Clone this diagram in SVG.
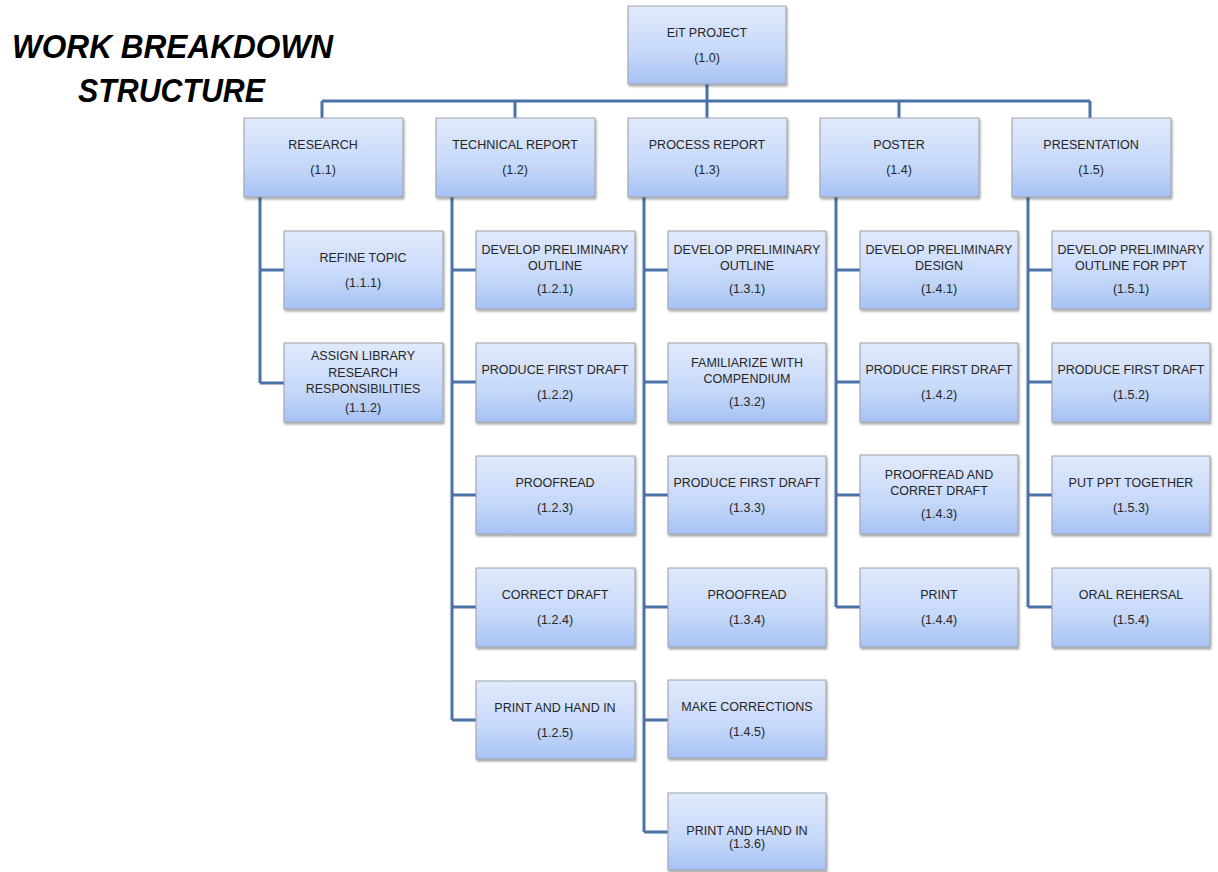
<svg xmlns="http://www.w3.org/2000/svg" width="1218" height="872" viewBox="0 0 1218 872">
<defs>
<linearGradient id="g" x1="0" y1="0" x2="0" y2="1">
<stop offset="0" stop-color="#e0eafc"/>
<stop offset="0.6" stop-color="#c6d8f9"/>
<stop offset="1" stop-color="#a6c2f5"/>
</linearGradient>
<filter id="sh" x="-10%" y="-10%" width="125%" height="130%">
<feDropShadow dx="1" dy="2" stdDeviation="1.2" flood-color="#000" flood-opacity="0.35"/>
</filter>
</defs>
<style>
.b{fill:url(#g);stroke:#9c9fa6;stroke-width:1;filter:url(#sh)}
.t{font-family:"Liberation Sans",Arial,sans-serif;font-size:12.5px;fill:#262626;text-anchor:middle}
.c{fill:none;stroke:#4a72a8;stroke-width:3}
.h{font-family:"Liberation Sans",Arial,sans-serif;font-weight:bold;font-style:italic;font-size:33px;fill:#000}
</style>
<rect width="1218" height="872" fill="#fff"/>
<text class="h" x="12" y="58" textLength="321" lengthAdjust="spacingAndGlyphs">WORK BREAKDOWN</text>
<text class="h" x="78" y="102" textLength="187" lengthAdjust="spacingAndGlyphs">STRUCTURE</text>

<g id="connectors">
<path class="c" d="M707 84V101M322 101H1090M322 101V118M515 101V118M707 101V118M899 101V118M1090 101V118"/>
<path class="c" d="M260 197V383M260 270H284M260 383H284"/>
<path class="c" d="M452 197V720M452 270H476M452 382H476M452 495H476M452 607H476M452 720H476"/>
<path class="c" d="M644 197V832M644 270H668M644 382H668M644 495H668M644 607H668M644 720H668M644 832H668"/>
<path class="c" d="M836 197V607M836 270H860M836 382H860M836 495H860M836 607H860"/>
<path class="c" d="M1028 197V607M1028 270H1052M1028 382H1052M1028 495H1052M1028 607H1052"/>
</g>

<g id="n1_0"><rect class="b" x="628" y="6" width="158" height="78"/><text class="t" x="707" y="37">EiT PROJECT</text><text class="t" x="707" y="62">(1.0)</text></g>

<g id="n1_1"><rect class="b" x="244" y="118" width="159" height="79"/><text class="t" x="323" y="149">RESEARCH</text><text class="t" x="323" y="174">(1.1)</text></g>
<g id="n1_2"><rect class="b" x="436" y="118" width="159" height="79"/><text class="t" x="515" y="149">TECHNICAL REPORT</text><text class="t" x="515" y="174">(1.2)</text></g>
<g id="n1_3"><rect class="b" x="628" y="118" width="159" height="79"/><text class="t" x="707" y="149">PROCESS REPORT</text><text class="t" x="707" y="174">(1.3)</text></g>
<g id="n1_4"><rect class="b" x="820" y="118" width="159" height="79"/><text class="t" x="899" y="149">POSTER</text><text class="t" x="899" y="174">(1.4)</text></g>
<g id="n1_5"><rect class="b" x="1012" y="118" width="159" height="79"/><text class="t" x="1091" y="149">PRESENTATION</text><text class="t" x="1091" y="174">(1.5)</text></g>

<g id="n1_1_1"><rect class="b" x="284" y="231" width="159" height="78"/><text class="t" x="363" y="262">REFINE TOPIC</text><text class="t" x="363" y="287">(1.1.1)</text></g>
<g id="n1_1_2"><rect class="b" x="284" y="343" width="159" height="79"/><text class="t" x="363" y="360">ASSIGN LIBRARY</text><text class="t" x="363" y="377">RESEARCH</text><text class="t" x="363" y="393">RESPONSIBILITIES</text><text class="t" x="363" y="412">(1.1.2)</text></g>

<g id="n1_2_1"><rect class="b" x="476" y="231" width="159" height="78"/><text class="t" x="555" y="254">DEVELOP PRELIMINARY</text><text class="t" x="555" y="270">OUTLINE</text><text class="t" x="555" y="293">(1.2.1)</text></g>
<g id="n1_2_2"><rect class="b" x="476" y="343" width="159" height="79"/><text class="t" x="555" y="374">PRODUCE FIRST DRAFT</text><text class="t" x="555" y="399">(1.2.2)</text></g>
<g id="n1_2_3"><rect class="b" x="476" y="456" width="159" height="78"/><text class="t" x="555" y="487">PROOFREAD</text><text class="t" x="555" y="512">(1.2.3)</text></g>
<g id="n1_2_4"><rect class="b" x="476" y="568" width="159" height="79"/><text class="t" x="555" y="599">CORRECT DRAFT</text><text class="t" x="555" y="624">(1.2.4)</text></g>
<g id="n1_2_5"><rect class="b" x="476" y="681" width="159" height="78"/><text class="t" x="555" y="712">PRINT AND HAND IN</text><text class="t" x="555" y="737">(1.2.5)</text></g>

<g id="n1_3_1"><rect class="b" x="668" y="231" width="158" height="78"/><text class="t" x="747" y="254">DEVELOP PRELIMINARY</text><text class="t" x="747" y="270">OUTLINE</text><text class="t" x="747" y="293">(1.3.1)</text></g>
<g id="n1_3_2"><rect class="b" x="668" y="343" width="158" height="79"/><text class="t" x="747" y="367">FAMILIARIZE WITH</text><text class="t" x="747" y="383">COMPENDIUM</text><text class="t" x="747" y="406">(1.3.2)</text></g>
<g id="n1_3_3"><rect class="b" x="668" y="456" width="158" height="78"/><text class="t" x="747" y="487">PRODUCE FIRST DRAFT</text><text class="t" x="747" y="512">(1.3.3)</text></g>
<g id="n1_3_4"><rect class="b" x="668" y="568" width="158" height="79"/><text class="t" x="747" y="599">PROOFREAD</text><text class="t" x="747" y="624">(1.3.4)</text></g>
<g id="n1_4_5"><rect class="b" x="668" y="680" width="158" height="78"/><text class="t" x="747" y="711">MAKE CORRECTIONS</text><text class="t" x="747" y="736">(1.4.5)</text></g>
<g id="n1_3_6"><rect class="b" x="668" y="793" width="158" height="77"/><text class="t" x="747" y="835">PRINT AND HAND IN</text><text class="t" x="747" y="848">(1.3.6)</text></g>

<g id="n1_4_1"><rect class="b" x="860" y="231" width="158" height="78"/><text class="t" x="939" y="254">DEVELOP PRELIMINARY</text><text class="t" x="939" y="270">DESIGN</text><text class="t" x="939" y="293">(1.4.1)</text></g>
<g id="n1_4_2"><rect class="b" x="860" y="343" width="158" height="79"/><text class="t" x="939" y="374">PRODUCE FIRST DRAFT</text><text class="t" x="939" y="399">(1.4.2)</text></g>
<g id="n1_4_3"><rect class="b" x="860" y="455" width="158" height="79"/><text class="t" x="939" y="479">PROOFREAD AND</text><text class="t" x="939" y="495">CORRET DRAFT</text><text class="t" x="939" y="518">(1.4.3)</text></g>
<g id="n1_4_4"><rect class="b" x="860" y="568" width="158" height="79"/><text class="t" x="939" y="599">PRINT</text><text class="t" x="939" y="624">(1.4.4)</text></g>

<g id="n1_5_1"><rect class="b" x="1052" y="231" width="158" height="78"/><text class="t" x="1131" y="254">DEVELOP PRELIMINARY</text><text class="t" x="1131" y="270">OUTLINE FOR PPT</text><text class="t" x="1131" y="293">(1.5.1)</text></g>
<g id="n1_5_2"><rect class="b" x="1052" y="343" width="158" height="79"/><text class="t" x="1131" y="374">PRODUCE FIRST DRAFT</text><text class="t" x="1131" y="399">(1.5.2)</text></g>
<g id="n1_5_3"><rect class="b" x="1052" y="456" width="158" height="78"/><text class="t" x="1131" y="487">PUT PPT TOGETHER</text><text class="t" x="1131" y="512">(1.5.3)</text></g>
<g id="n1_5_4"><rect class="b" x="1052" y="568" width="158" height="79"/><text class="t" x="1131" y="599">ORAL REHERSAL</text><text class="t" x="1131" y="624">(1.5.4)</text></g>
</svg>
